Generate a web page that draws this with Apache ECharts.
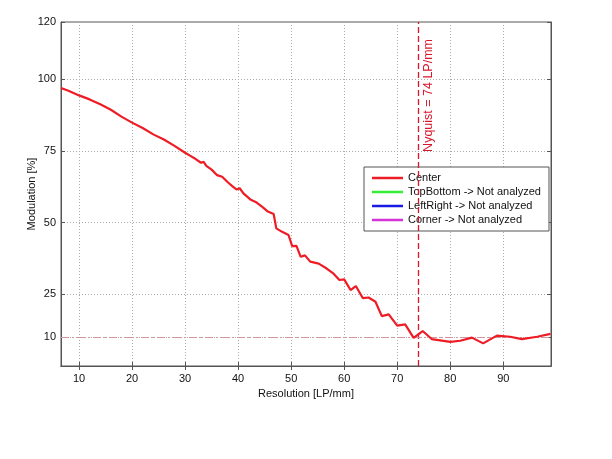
<!DOCTYPE html>
<html>
<head>
<meta charset="utf-8">
<script src="https://cdn.jsdelivr.net/npm/echarts@6/dist/echarts.min.js"></script>
<style>html,body{margin:0;padding:0;background:#fff}#c{width:612px;height:459px}</style>
</head>
<body>
<div id="c"></div>
<script>
const resolution = [6.6, 8, 10, 12, 14, 16, 18, 20, 22, 24, 26, 28, 30, 31, 32, 33, 33.5, 34, 35, 36, 37, 38, 39, 39.7, 40.3, 41, 42.3, 43.5, 44.5, 45.5, 46.7, 47.2, 48.3, 49.5, 50.2, 51.0, 51.8, 52.6, 53.6, 55.2, 56.7, 58.0, 59.1, 60.0, 61.2, 62.2, 63.5, 64.6, 65.9, 67.1, 68.4, 70.0, 71.5, 73.1, 74.8, 76.5, 80.0, 81.9, 84.1, 86.2, 88.8, 91.3, 93.5, 96.4, 98.9];
const modulation = [97.0, 96.0, 94.4, 93.0, 91.3, 89.4, 87.0, 84.9, 83.0, 80.8, 79.0, 76.8, 74.4, 73.3, 72.2, 70.9, 71.2, 69.8, 68.5, 66.6, 66.0, 64.2, 62.6, 61.6, 62.0, 60.2, 58.1, 57.0, 55.6, 54.0, 53.0, 48.0, 46.8, 45.7, 41.8, 41.9, 38.1, 38.6, 36.4, 35.7, 34.0, 32.2, 30.0, 30.2, 26.5, 27.9, 23.7, 23.9, 22.4, 17.4, 18.0, 14.1, 14.5, 9.8, 12.2, 9.4, 8.4, 8.8, 9.9, 7.9, 10.6, 10.2, 9.4, 10.2, 11.2];
const xTicks = [10, 20, 30, 40, 50, 60, 70, 80, 90];
const yTicks = [10, 25, 50, 75, 100, 120];
const nyquist = 74;
const threshold = 10;
const seriesNames = ['Center', 'TopBottom -> Not analyzed', 'LeftRight -> Not analyzed', 'Corner -> Not analyzed'];
const seriesColors = ['#ee1c25', '#33ee33', '#1a1ae6', '#d633d6'];

const font = 'Liberation Sans, Arial, sans-serif';
const chart = echarts.init(document.getElementById('c'), null, {renderer: 'canvas'});
const gridLine = {show: true, lineStyle: {color: '#aaaaaa', type: [1, 2], width: 1}};
const baseX = {
  type: 'value', min: 6.6, max: 99,
  axisLine: {show: true, lineStyle: {color: '#555', width: 1}},
  axisTick: {show: true, inside: true, length: 4, customValues: xTicks, lineStyle: {color: '#555'}},
  axisLabel: {customValues: xTicks, color: '#111', fontSize: 11, fontFamily: font, margin: 7},
  splitLine: gridLine
};
const baseY = {
  type: 'value', min: 0, max: 120,
  axisLine: {show: true, lineStyle: {color: '#555', width: 1}},
  axisTick: {show: true, inside: true, length: 4, customValues: yTicks, lineStyle: {color: '#555'}},
  axisLabel: {customValues: yTicks, color: '#111', fontSize: 11, fontFamily: font, margin: 5},
  splitLine: gridLine
};
const series = [{
  name: seriesNames[0], type: 'line', showSymbol: false, symbol: 'none',
  data: resolution.map((r, i) => [r, modulation[i]]),
  lineStyle: {color: seriesColors[0], width: 2.2}, itemStyle: {color: seriesColors[0]},
  z: 5,
  markLine: {
    silent: true, symbol: ['none', 'none'],
    data: [
      {xAxis: nyquist, lineStyle: {color: '#d9162b', type: [6, 3], width: 1.3},
       label: {show: true, position: 'insideEndBottom', formatter: 'Nyquist = ' + nyquist + ' LP/mm', color: '#d9162b', fontSize: 12.5, fontFamily: font, distance: 4, padding: [0, 13, 0, 0]}},
      {yAxis: threshold, lineStyle: {color: '#d8949c', type: [8, 3, 2, 3], width: 1},
       label: {show: false}}
    ]
  }
}];
for (let i = 1; i < 4; i++) {
  series.push({name: seriesNames[i], type: 'line', data: [], lineStyle: {color: seriesColors[i], width: 2.2}, itemStyle: {color: seriesColors[i]}});
}
chart.setOption({
  animation: false,
  backgroundColor: '#fff',
  grid: {left: 61, top: 22, width: 490, height: 344, show: true, borderColor: '#555', borderWidth: 1, backgroundColor: 'transparent'},
  xAxis: [Object.assign({}, baseX, {name: 'Resolution [LP/mm]', nameLocation: 'middle', nameGap: 22,
            nameTextStyle: {color: '#111', fontSize: 11, fontFamily: font}}),
          Object.assign({}, baseX, {position: 'top', axisLabel: {show: false}, splitLine: {show: false}})],
  yAxis: [Object.assign({}, baseY, {name: 'Modulation [%]', nameLocation: 'middle', nameGap: 24, nameMoveOverlap: false,
            nameTextStyle: {color: '#111', fontSize: 11, fontFamily: font}}),
          Object.assign({}, baseY, {position: 'right', axisLabel: {show: false}, splitLine: {show: false}})],
  legend: {
    orient: 'vertical', left: 364, top: 167, data: seriesNames,
    backgroundColor: '#fff', borderColor: '#555', borderWidth: 1, padding: [4, 8, 4, 8],
    icon: 'rect', itemWidth: 31, itemHeight: 2.5, itemGap: 0,
    textStyle: {color: '#111', fontSize: 11, fontFamily: font, lineHeight: 14, padding: [0, 0, 0, 0]}
  },
  series: series
});
</script>
</body>
</html>
